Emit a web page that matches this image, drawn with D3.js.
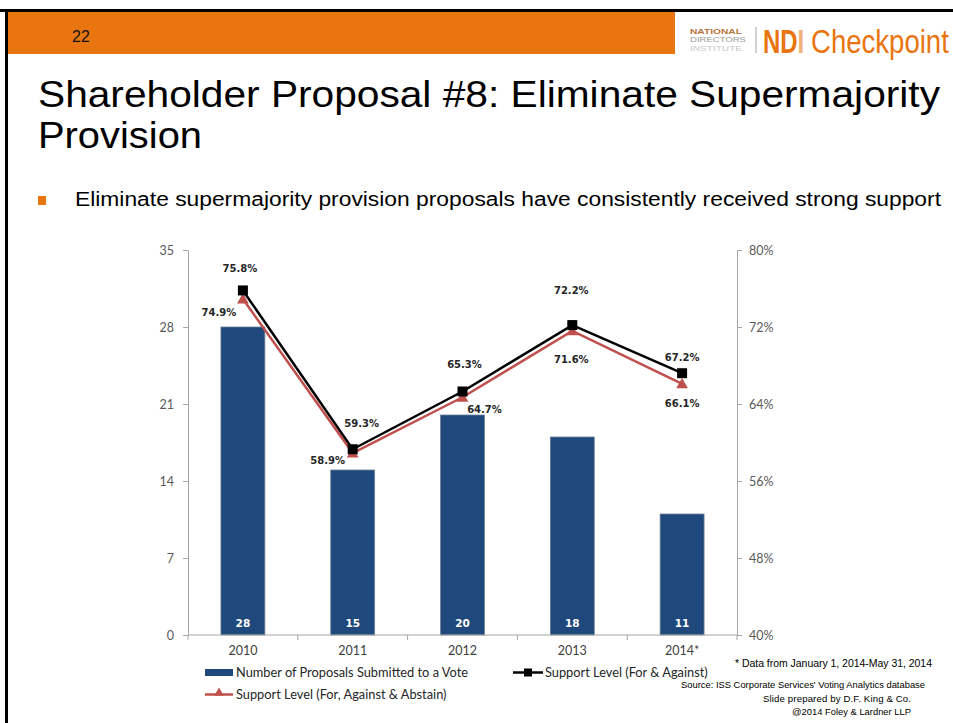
<!DOCTYPE html>
<html>
<head>
<meta charset="utf-8">
<script src="https://cdn.jsdelivr.net/npm/d3@7"></script>
<style>
  html, body { margin: 0; padding: 0; background: #fff; }
  svg { display: block; }
</style>
</head>
<body>
<svg id="slide" width="953" height="723"></svg>
<script>
// ---- Data ----
const years = ["2010", "2011", "2012", "2013", "2014*"];
const proposalCounts = [28, 15, 20, 18, 11];
const supportForAgainst = [75.8, 59.3, 65.3, 72.2, 67.2];
const supportWithAbstain = [74.9, 58.9, 64.7, 71.6, 66.1];
const countTicks = [0, 7, 14, 21, 28, 35];
const pctTicks = [40, 48, 56, 64, 72, 80];

// Label nudges (dx, dy) for the percentage annotations
const blackLabelOffsets = [[-3, -22], [9, -26], [2, -27], [-1, -35], [0, -16]];
const redLabelOffsets = [[-24, 13], [-25, 7], [22, 12], [-1, 28], [0, 19]];

const ORANGE = "#E8750F";
const BLUE = "#1F497D";
const RED = "#C0504D";

const svg = d3.select("#slide");

// ---- Slide frame ----
svg.append("rect").attr("x", 0).attr("y", 9).attr("width", 953).attr("height", 3).attr("fill", "#000");
svg.append("rect").attr("x", 5).attr("y", 9).attr("width", 3).attr("height", 714).attr("fill", "#000");
svg.append("rect").attr("x", 8).attr("y", 12).attr("width", 667).attr("height", 42).attr("fill", ORANGE);
svg.append("text").attr("x", 72).attr("y", 42).attr("font-family", "Liberation Sans, Arial, sans-serif")
  .attr("font-size", 16).attr("fill", "#111").text("22");

// Logo
const logo = svg.append("g").attr("font-family", "Liberation Sans, Arial, sans-serif");
logo.append("text").attr("x", 690).attr("y", 33.5).attr("font-size", 7.5).attr("font-weight", "bold")
  .attr("fill", "#b8733a").attr("textLength", 52).attr("lengthAdjust", "spacingAndGlyphs").text("NATIONAL");
logo.append("text").attr("x", 690).attr("y", 42).attr("font-size", 7.5)
  .attr("fill", "#9a9a9a").attr("textLength", 56).attr("lengthAdjust", "spacingAndGlyphs").text("DIRECTORS");
logo.append("text").attr("x", 690).attr("y", 50.5).attr("font-size", 7.5)
  .attr("fill", "#c8c8c8").attr("textLength", 52).attr("lengthAdjust", "spacingAndGlyphs").text("INSTITUTE");
logo.append("line").attr("x1", 756).attr("x2", 756).attr("y1", 27).attr("y2", 53)
  .attr("stroke", "#b0b0b0").attr("stroke-width", 1.2);
const ndi = logo.append("text").attr("transform", "translate(763,53) scale(0.92,1.3)")
  .attr("font-size", 26).attr("font-weight", "bold").attr("fill", ORANGE);
ndi.append("tspan").text("ND");
ndi.append("tspan").attr("fill", "#f0b27a").text("I");
logo.append("text").attr("transform", "translate(811,53) scale(1.06,1.3)")
  .attr("font-size", 26).attr("fill", ORANGE).text("Checkpoint");

// Title
const title = svg.append("g").attr("font-family", "Liberation Sans, Arial, sans-serif").attr("fill", "#000");
title.append("text").attr("x", 38).attr("y", 107).attr("font-size", 37)
  .attr("textLength", 902).attr("lengthAdjust", "spacingAndGlyphs")
  .text("Shareholder Proposal #8: Eliminate Supermajority");
title.append("text").attr("x", 38).attr("y", 148).attr("font-size", 37)
  .attr("textLength", 164).attr("lengthAdjust", "spacingAndGlyphs").text("Provision");

// Bullet
svg.append("rect").attr("x", 38).attr("y", 196).attr("width", 8).attr("height", 9).attr("fill", ORANGE);
svg.append("text").attr("x", 75).attr("y", 206).attr("font-family", "Liberation Sans, Arial, sans-serif")
  .attr("font-size", 20).attr("fill", "#000").attr("textLength", 866).attr("lengthAdjust", "spacingAndGlyphs")
  .text("Eliminate supermajority provision proposals have consistently received strong support");

// ---- Chart ----
const plotLeft = 188, plotRight = 737, plotTop = 250, plotBottom = 635;
const x = d3.scaleBand().domain(years).range([plotLeft, plotRight]).paddingInner(0.6).paddingOuter(0.3);
const yCount = d3.scaleLinear().domain([0, 35]).range([plotBottom, plotTop]);
const yPct = d3.scaleLinear().domain([40, 80]).range([plotBottom, plotTop]);
const cx = d => x(d) + x.bandwidth() / 2;

const axisFont = "Lato, 'Open Sans', sans-serif";
const axisColor = "#a6a6a6";
const tickText = "#595959";

// Left axis
const gL = svg.append("g").attr("transform", `translate(${plotLeft},0)`)
  .call(d3.axisLeft(yCount).tickValues(countTicks).tickSize(5).tickPadding(9));
// Right axis
const gR = svg.append("g").attr("transform", `translate(${plotRight},0)`)
  .call(d3.axisRight(yPct).tickValues(pctTicks).tickSize(5).tickPadding(7).tickFormat(d => d + "%"));
[gL, gR].forEach(g => {
  g.selectAll("path, line").attr("stroke", axisColor);
  g.selectAll("text").attr("font-family", axisFont).attr("font-size", 12.5).attr("fill", tickText);
});

// Bars
svg.append("g").selectAll("rect").data(proposalCounts).join("rect")
  .attr("x", (d, i) => x(years[i]))
  .attr("y", d => yCount(d))
  .attr("width", x.bandwidth())
  .attr("height", d => yCount(0) - yCount(d))
  .attr("fill", BLUE)
  .attr("stroke", "#6d7f94").attr("stroke-width", 0.8);

svg.append("g").selectAll("text").data(proposalCounts).join("text")
  .attr("x", (d, i) => cx(years[i]))
  .attr("y", yCount(0) - 8)
  .attr("text-anchor", "middle")
  .attr("font-family", "DejaVu Sans, Verdana, sans-serif").attr("font-weight", "bold")
  .attr("font-size", 10.5).attr("fill", "#fff")
  .text(d => d);

// Bottom axis: baseline, category labels, boundary ticks
const gB = svg.append("g").attr("transform", `translate(0,${plotBottom})`)
  .call(d3.axisBottom(x).tickSize(0).tickPadding(11));
gB.select(".domain").attr("stroke", axisColor).attr("d", `M${plotLeft},0H${plotRight}`);
gB.selectAll("text").attr("font-family", axisFont).attr("font-size", 12.5).attr("fill", "#404040");
svg.append("g").selectAll("line").data(d3.range(years.length + 1)).join("line")
  .attr("x1", i => plotLeft + i * (plotRight - plotLeft) / years.length)
  .attr("x2", i => plotLeft + i * (plotRight - plotLeft) / years.length)
  .attr("y1", plotBottom).attr("y2", plotBottom + 5)
  .attr("stroke", axisColor);

// Lines
const lineGen = d3.line().x((d, i) => cx(years[i])).y(d => yPct(d));
svg.append("path").datum(supportWithAbstain).attr("d", lineGen)
  .attr("fill", "none").attr("stroke", RED).attr("stroke-width", 2.5);
svg.append("path").datum(supportForAgainst).attr("d", lineGen)
  .attr("fill", "none").attr("stroke", "#000").attr("stroke-width", 2.5);

// Markers
const tri = d3.symbol().type(d3.symbolTriangle).size(60);
svg.append("g").selectAll("path").data(supportWithAbstain).join("path")
  .attr("d", tri)
  .attr("transform", (d, i) => `translate(${cx(years[i])},${yPct(d) + 1})`)
  .attr("fill", RED);
svg.append("g").selectAll("rect").data(supportForAgainst).join("rect")
  .attr("x", (d, i) => cx(years[i]) - 5)
  .attr("y", d => yPct(d) - 5)
  .attr("width", 10).attr("height", 10)
  .attr("fill", "#000");

// Percentage labels
const labelFont = "DejaVu Sans, Verdana, sans-serif";
svg.append("g").selectAll("text").data(supportForAgainst).join("text")
  .attr("x", (d, i) => cx(years[i]) + blackLabelOffsets[i][0])
  .attr("y", (d, i) => yPct(d) + blackLabelOffsets[i][1] + 4)
  .attr("text-anchor", "middle").attr("font-family", labelFont).attr("font-weight", "bold")
  .attr("font-size", 10).attr("fill", "#262626")
  .text(d => d.toFixed(1) + "%");
svg.append("g").selectAll("text").data(supportWithAbstain).join("text")
  .attr("x", (d, i) => cx(years[i]) + redLabelOffsets[i][0])
  .attr("y", (d, i) => yPct(d) + redLabelOffsets[i][1] + 4)
  .attr("text-anchor", "middle").attr("font-family", labelFont).attr("font-weight", "bold")
  .attr("font-size", 10).attr("fill", "#262626")
  .text(d => d.toFixed(1) + "%");

// Legend
const legend = svg.append("g").attr("font-family", axisFont).attr("font-size", 12.8).attr("fill", "#262626");
legend.append("rect").attr("x", 205).attr("y", 669).attr("width", 28).attr("height", 7).attr("fill", BLUE);
legend.append("text").attr("x", 236).attr("y", 677).text("Number of Proposals Submitted to a Vote");
legend.append("line").attr("x1", 513).attr("x2", 543).attr("y1", 672.5).attr("y2", 672.5)
  .attr("stroke", "#000").attr("stroke-width", 2.5);
legend.append("rect").attr("x", 524).attr("y", 668.5).attr("width", 8).attr("height", 8).attr("fill", "#000");
legend.append("text").attr("x", 545).attr("y", 677).text("Support Level (For & Against)");
legend.append("line").attr("x1", 205).attr("x2", 233).attr("y1", 694.5).attr("y2", 694.5)
  .attr("stroke", RED).attr("stroke-width", 2.5);
legend.append("path").attr("d", d3.symbol().type(d3.symbolTriangle).size(40))
  .attr("transform", "translate(219,693)").attr("fill", RED);
legend.append("text").attr("x", 236).attr("y", 699).text("Support Level (For, Against & Abstain)");

// Footnotes
const notes = svg.append("g").attr("font-family", "Liberation Sans, Arial, sans-serif").attr("fill", "#000")
  .attr("lengthAdjust", "spacingAndGlyphs");
notes.append("text").attr("x", 735).attr("y", 667).attr("font-size", 10.5)
  .attr("textLength", 197).text("* Data from January 1, 2014-May 31, 2014");
notes.append("text").attr("x", 681).attr("y", 688).attr("font-size", 9.4)
  .attr("textLength", 244).text("Source: ISS Corporate Services' Voting Analytics database");
notes.append("text").attr("x", 763).attr("y", 702).attr("font-size", 9.6)
  .attr("textLength", 148).text("Slide prepared by D.F. King & Co.");
notes.append("text").attr("x", 792).attr("y", 715).attr("font-size", 9.4)
  .attr("textLength", 119).text("@2014 Foley & Lardner LLP");
</script>
</body>
</html>
